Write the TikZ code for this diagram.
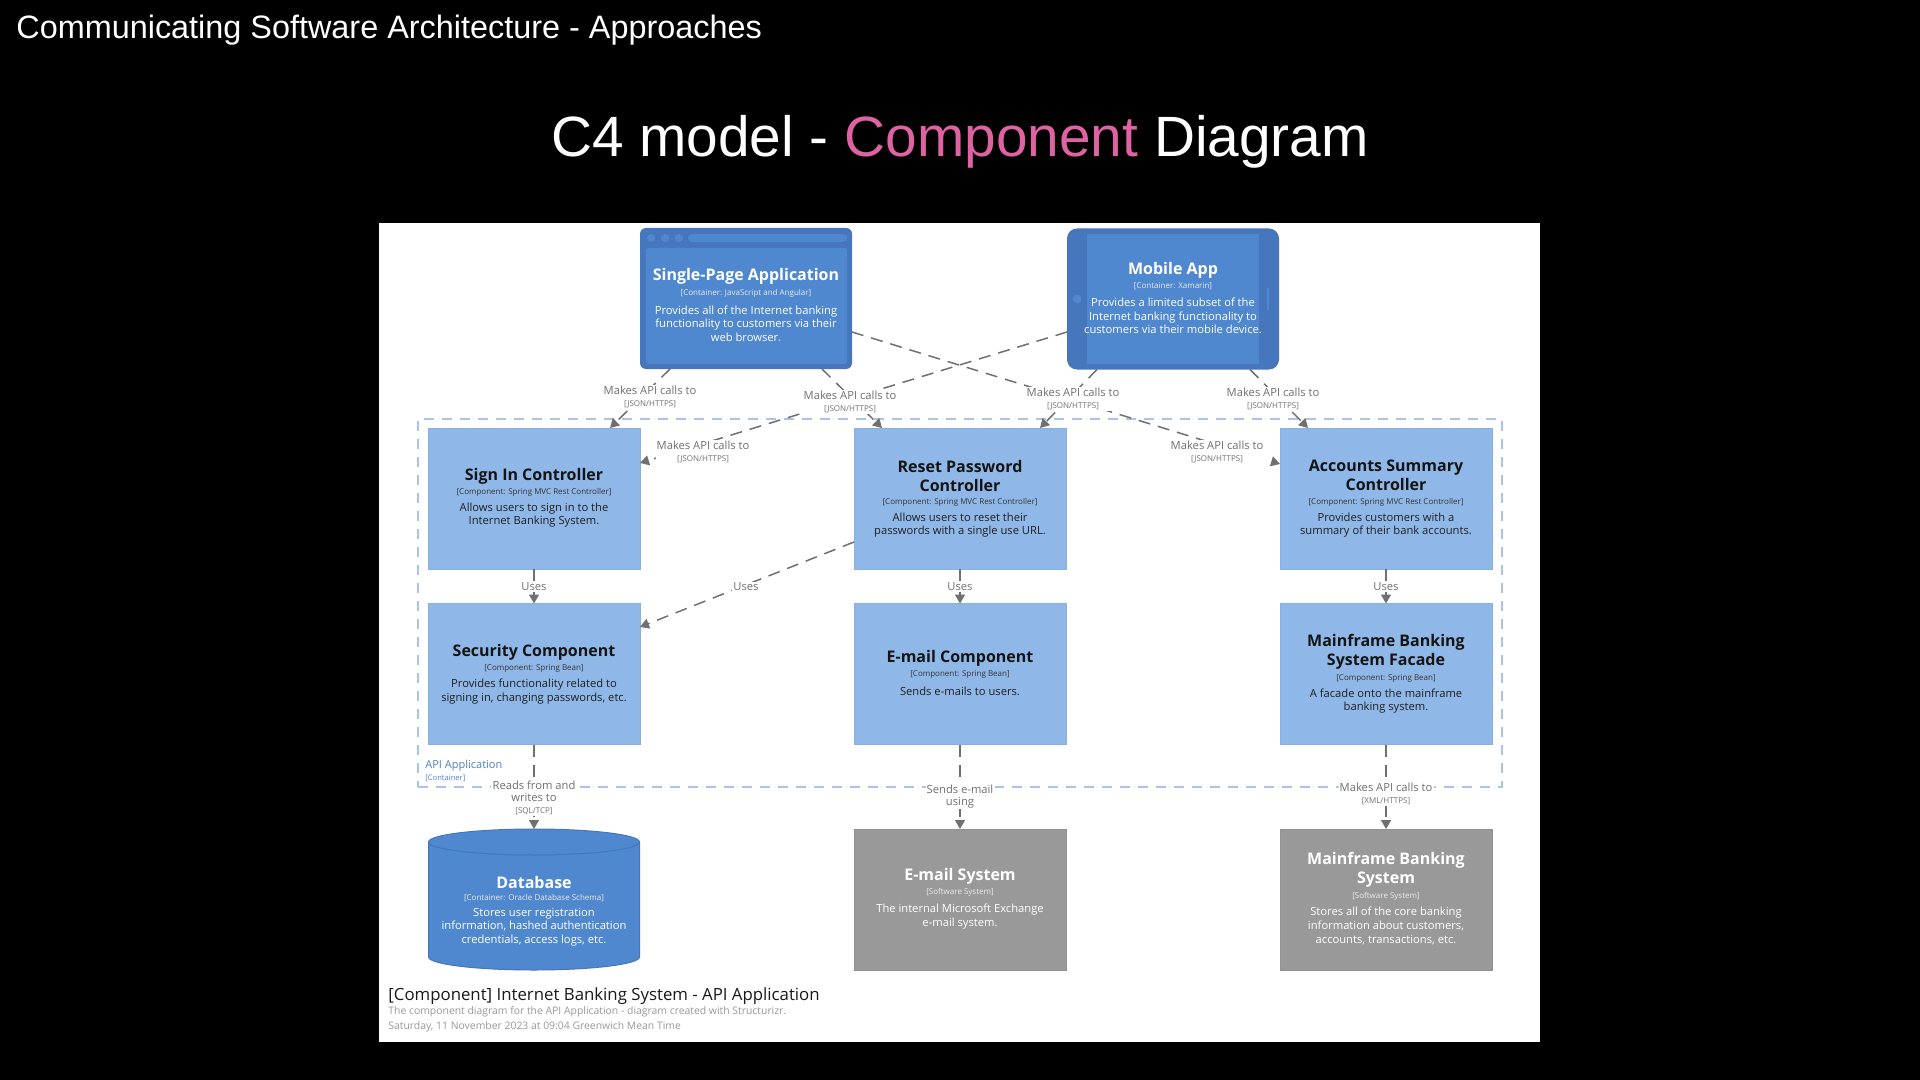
\documentclass[tikz,border=0pt]{standalone}
\usepackage{fontspec}
\setmainfont{Open Sans}
\newfontfamily\arialf{Liberation Sans}
\usetikzlibrary{arrows.meta,calc}
\definecolor{compfill}{HTML}{8FB8E9}
\definecolor{compdraw}{HTML}{86B0E2}
\definecolor{contfill}{HTML}{5088CF}
\definecolor{contdark}{HTML}{4676BB}
\definecolor{extfill}{HTML}{999999}
\definecolor{extdraw}{HTML}{929292}
\definecolor{labgray}{HTML}{707070}
\definecolor{bndblue}{HTML}{AAC4E6}
\definecolor{apiblue}{HTML}{4C7FCF}
\definecolor{pinkc}{HTML}{DE63A2}
\newcommand\techf{\fontsize{4}{4.5}\selectfont}
\begin{document}
\begin{tikzpicture}[x=0.5pt,y=-0.5pt,
  ghost/.style={rectangle, minimum width=106pt, minimum height=70.5pt, inner sep=0pt, outer sep=0pt},
  comp/.style={ghost, fill=compfill, draw=compdraw, line width=0.4pt},
  ext/.style={ghost, fill=extfill, draw=extdraw, line width=0.4pt},
  ttl/.style={font=\bfseries\fontsize{8}{9.5}\selectfont, align=center, inner sep=0pt, text=black!92},
  ster/.style={font=\fontsize{4}{4.5}\selectfont, inner sep=0pt, text=black!80},
  dsc/.style={font=\fontsize{5.6}{6.8}\selectfont, align=center, inner sep=0pt, text=black!88},
  wttl/.style={ttl, text=white},
  wster/.style={ster, text=white!92!black},
  wdsc/.style={dsc, text=white},
  rel/.style={draw=labgray, line width=0.75pt, dash pattern=on 6pt off 4pt, -{Triangle[length=4.5pt,width=5pt]}},
  lab/.style={font=\fontsize{5.6}{6}\selectfont, align=center, text=labgray, fill=white, inner sep=0.6pt},
]
\fill[black] (0,0) rectangle (1920,1080);
\useasboundingbox (0,0) rectangle (1920,1080);
\fill[white] (379,223) rectangle (1540,1042);

% slide titles
\node[anchor=base west, font=\arialf\fontsize{16.2}{18}\selectfont, text=white, inner sep=0pt] (hdr) at (16,39) {Communicating Software Architecture - Approaches};
\node[anchor=base, font=\arialf\fontsize{28.4}{32}\selectfont, text=white, inner sep=0pt] (maintitle) at (960,157) {C4 model - \textcolor{pinkc}{Component} Diagram};

% boundary
\node[draw=bndblue, line width=0.8pt, dash pattern=on 5pt off 4pt, rectangle, minimum width=542pt, minimum height=184pt, inner sep=0pt] (api) at (960,603) {};
\node[anchor=west, font=\fontsize{5.5}{6}\selectfont, text=apiblue, inner sep=0pt] (apilbl) at (425,766) {API Application};
\node[anchor=west, font=\fontsize{3.8}{4}\selectfont, text=apiblue, inner sep=0pt] (apicnt) at (425,778) {[Container]};

% Single-Page Application (web browser)
\node[ghost, fill=contdark, rounded corners=3pt] (spa) at (746,298.5) {};
\fill[contfill, rounded corners=1.5pt] (646,248) rectangle (847,364);
\fill[contfill] (651,238) circle[radius=2pt];
\fill[contfill] (665,238) circle[radius=2pt];
\fill[contfill] (679,238) circle[radius=2pt];
\fill[contfill, rounded corners=2pt] (688,234) rectangle (847,242);
\node[wttl] (spat) at (746,276.5) {Single-Page Application};
\node[wster] (spas) at (746,293.5) {[Container: JavaScript and Angular]};
\node[wdsc] (spad) at (746,323.5) {Provides all of the Internet banking\\functionality to customers via their\\web browser.};

% Mobile App
\node[ghost, fill=contdark, rounded corners=5pt] (mobile) at (1173,299) {};
\fill[contfill] (1087,234) rectangle (1259,364);
\fill[contfill] (1077,299) circle[radius=2.2pt];
\draw[contfill, line width=1pt] (1268,288) -- (1268,310);
\node[wttl] (mobt) at (1173,270) {Mobile App};
\node[wster] (mobs) at (1173,286) {[Container: Xamarin]};
\node[wdsc] (mobd) at (1173,316) {Provides a limited subset of the\\Internet banking functionality to\\customers via their mobile device.};

% components row 1
\node[comp] (signin) at (534,498.5) {};
\node[ttl] (signint) at (534,476.5) {Sign In Controller};
\node[ster] (signins) at (534,492.5) {[Component: Spring MVC Rest Controller]};
\node[dsc] (signind) at (534,515) {Allows users to sign in to the\\Internet Banking System.};

\node[comp] (reset) at (960,498.5) {};
\node[ttl] (resett) at (960,475.5) {Reset Password\\Controller};
\node[ster] (resets) at (960,502.5) {[Component: Spring MVC Rest Controller]};
\node[dsc] (resetd) at (960,525) {Allows users to reset their\\passwords with a single use URL.};

\node[comp] (accts) at (1386,498.5) {};
\node[ttl] (acctst) at (1386,475.5) {Accounts Summary\\Controller};
\node[ster] (acctss) at (1386,502.5) {[Component: Spring MVC Rest Controller]};
\node[dsc] (acctsd) at (1386,525) {Provides customers with a\\summary of their bank accounts.};

% components row 2
\node[comp] (security) at (534,674) {};
\node[ttl] (securityt) at (534,652.5) {Security Component};
\node[ster] (securitys) at (534,668.5) {[Component: Spring Bean]};
\node[dsc] (securityd) at (534,691.5) {Provides functionality related to\\signing in, changing passwords, etc.};

\node[comp] (emailc) at (960,674) {};
\node[ttl] (emailct) at (960,658.5) {E-mail Component};
\node[ster] (emailcs) at (960,674.5) {[Component: Spring Bean]};
\node[dsc] (emailcd) at (960,691.5) {Sends e-mails to users.};

\node[comp] (facade) at (1386,674) {};
\node[ttl] (facadet) at (1386,651.5) {Mainframe Banking\\System Facade};
\node[ster] (facades) at (1386,678.5) {[Component: Spring Bean]};
\node[dsc] (facaded) at (1386,701) {A facade onto the mainframe\\banking system.};

% database
\node[ghost] (db) at (534,899.5) {};
\path[fill=contfill, draw=contdark, line width=0.5pt] (428.5,842) -- (428.5,957) arc[start angle=180, end angle=360, x radius=52.75pt, y radius=6.5pt] -- (639.5,842) arc[start angle=0, end angle=180, x radius=52.75pt, y radius=6.5pt] -- cycle;
\draw[contdark, line width=0.5pt] (428.5,842) arc[start angle=180, end angle=360, x radius=52.75pt, y radius=6.5pt];
\node[wttl] (dbt) at (534,882.5) {Database};
\node[wster] (dbs) at (534,898.5) {[Container: Oracle Database Schema]};
\node[wdsc] (dbd) at (534,927) {Stores user registration\\information, hashed authentication\\credentials, access logs, etc.};

% external systems
\node[ext] (emails) at (960,899.5) {};
\node[wttl] (emailst) at (960,876.5) {E-mail System};
\node[wster] (emailss) at (960,892.5) {[Software System]};
\node[wdsc] (emailsd) at (960,916.5) {The internal Microsoft Exchange\\e-mail system.};

\node[ext] (mainframe) at (1386,899.5) {};
\node[wttl] (mainframet) at (1386,869.5) {Mainframe Banking\\System};
\node[wster] (mainframes) at (1386,896.5) {[Software System]};
\node[wdsc] (mainframed) at (1386,926) {Stores all of the core banking\\information about customers,\\accounts, transactions, etc.};

% relationships
\draw[rel] ($(spa.south)+(-76,0)$) -- ($(signin.north)+(76,0)$);
\draw[rel] ($(spa.south)+(76,0)$) -- ($(reset.north)+(-78,0)$);
\draw[rel] ($(spa.east)+(0,33.5)$) -- ($(accts.west)+(0,-34.5)$);
\draw[rel] ($(mobile.west)+(0,33)$) -- ($(signin.east)+(0,-35.5)$);
\draw[rel] ($(mobile.south)+(-76,0)$) -- ($(reset.north)+(80,0)$);
\draw[rel] ($(mobile.south)+(77,0)$) -- ($(accts.north)+(-78,0)$);
\draw[rel] (signin) -- (security);
\draw[rel] ($(reset.west)+(0,43.5)$) -- ($(security.east)+(0,-47)$);
\draw[rel] (reset) -- (emailc);
\draw[rel] (accts) -- (facade);
\draw[rel] (security) -- (db);
\draw[rel] (emailc) -- (emails);
\draw[rel] (facade) -- (mainframe);

% relationship labels
\node[lab] (l1) at (650,397) {Makes API calls to\\{\techf [JSON/HTTPS]}};
\node[lab] (l2) at (850,402) {Makes API calls to\\{\techf [JSON/HTTPS]}};
\node[lab] (l3) at (1217,452) {Makes API calls to\\{\techf [JSON/HTTPS]}};
\node[lab] (l4) at (703,452) {Makes API calls to\\{\techf [JSON/HTTPS]}};
\node[lab] (l5) at (1073,399) {Makes API calls to\\{\techf [JSON/HTTPS]}};
\node[lab] (l6) at (1273,399) {Makes API calls to\\{\techf [JSON/HTTPS]}};
\node[lab] (l7) at (534,587) {Uses};
\node[lab] (l8) at (746,587) {Uses};
\node[lab] (l9) at (960,587) {Uses};
\node[lab] (l10) at (1386,587) {Uses};
\node[lab] (l11) at (534,798) {Reads from and\\writes to\\{\techf [SQL/TCP]}};
\node[lab] (l12) at (960,796.5) {Sends e-mail\\using};
\node[lab] (l13) at (1386,794) {Makes API calls to\\{\techf [XML/HTTPS]}};

% caption
\node[anchor=base west, font=\fontsize{8.4}{9}\selectfont, text=black!90, inner sep=0pt] (cap1) at (388,1000) {[Component] Internet Banking System - API Application};
\node[anchor=base west, font=\fontsize{5.2}{5.5}\selectfont, text=black!40, inner sep=0pt] (cap2) at (388,1014) {The component diagram for the API Application - diagram created with Structurizr.};
\node[anchor=base west, font=\fontsize{5.2}{5.5}\selectfont, text=black!40, inner sep=0pt] (cap3) at (388,1029) {Saturday, 11 November 2023 at 09:04 Greenwich Mean Time};
\end{tikzpicture}
\end{document}
